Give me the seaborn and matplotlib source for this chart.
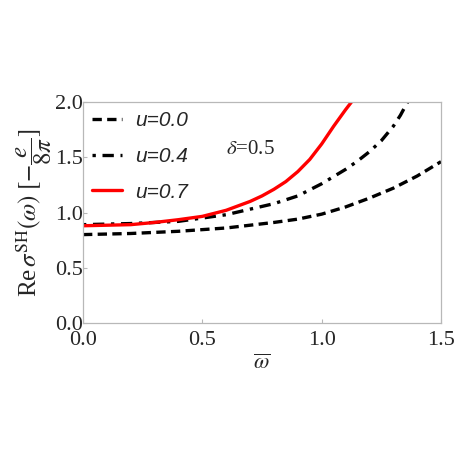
import matplotlib
matplotlib.use("Agg")
import matplotlib.pyplot as plt
import seaborn as sns
import pandas as pd

sns.set_style("white")
plt.rcParams["font.family"] = ["Liberation Serif", "DejaVu Serif"]
plt.rcParams["mathtext.fontset"] = "stix"

omega_u00 = [0, 0.2, 0.4, 0.6, 0.7, 0.8, 0.9, 1.0, 1.1, 1.2, 1.3, 1.4, 1.5]
sigma_u00 = [0.80, 0.81, 0.83, 0.86, 0.885, 0.91, 0.94, 0.985, 1.05, 1.13, 1.22, 1.33, 1.46]

omega_u04 = [0, 0.2, 0.4, 0.5, 0.6, 0.7, 0.8, 0.9, 1.0, 1.1, 1.15, 1.2, 1.25, 1.3, 1.33, 1.36]
sigma_u04 = [0.89, 0.90, 0.92, 0.95, 0.98, 1.03, 1.08, 1.15, 1.26, 1.39, 1.465, 1.55, 1.65, 1.78, 1.88, 2.0]

omega_u07 = [0, 0.2, 0.3, 0.4, 0.5, 0.6, 0.7, 0.75, 0.8, 0.85, 0.9, 0.95, 1.0, 1.05, 1.1, 1.125]
sigma_u07 = [0.88, 0.89, 0.91, 0.935, 0.965, 1.02, 1.10, 1.15, 1.21, 1.28, 1.37, 1.48, 1.62, 1.78, 1.93, 2.0]

labels = ["u=0.0", "u=0.4", "u=0.7"]

fig = plt.figure(figsize=(4.57, 4.57), dpi=100)
ax = fig.add_axes([83 / 457, 1 - 323 / 457, 358 / 457, 221 / 457])

styles = [
    dict(color="black", dashes=(2.8, 1.6)),
    dict(color="black", dashes=(1.0, 2.0, 3.4, 2.0)),
    dict(color="#ff0000"),
]
for om, sg, lab, st in zip([omega_u00, omega_u04, omega_u07],
                           [sigma_u00, sigma_u04, sigma_u07], labels, styles):
    df = pd.DataFrame({"omega": om, "sigma": sg})
    sns.lineplot(data=df, x="omega", y="sigma", ax=ax, lw=2.4, label=lab,
                 color=st["color"])
    if "dashes" in st:
        ax.lines[-1].set_dashes(st["dashes"])

ax.set_xlim(0, 1.5)
ax.set_ylim(0, 2.0)
ax.set_xticks([0, 0.5, 1.0, 1.5])
ax.set_yticks([0, 0.5, 1.0, 1.5, 2.0])
ax.set_xticklabels(["0.0", "0.5", "1.0", "1.5"])
ax.set_yticklabels(["0.0", "0.5", "1.0", "1.5", "2.0"])
ax.tick_params(direction="in", length=3, width=0.8, color="#b8b8b8",
               labelsize=16, bottom=True, left=True)
ax.tick_params(axis="y", pad=0)
ax.tick_params(axis="x", pad=6)
for s in ax.spines.values():
    s.set_color("#b8b8b8")
    s.set_linewidth(0.9)

ax.set_xlabel(r"$\overline{\omega}$", fontsize=16, labelpad=3)
ax.set_ylabel(r"Re$\,\sigma^{\rm SH}(\omega)\;[-\dfrac{e}{8\pi}]$", fontsize=18, labelpad=0)

leg = ax.legend(loc="upper left", frameon=False, handlelength=1.4,
                prop={"family": "Liberation Sans", "style": "italic", "size": 15},
                borderaxespad=0.2, borderpad=0.25, labelspacing=0.8,
                handletextpad=0.65)
for h in leg.get_lines():
    h.set_linewidth(2.4)

ax.text(0.6, 1.57, r"$\delta$=0.5", fontsize=15, family="Liberation Serif",
        va="center")

fig.savefig("out.png", dpi=100)
